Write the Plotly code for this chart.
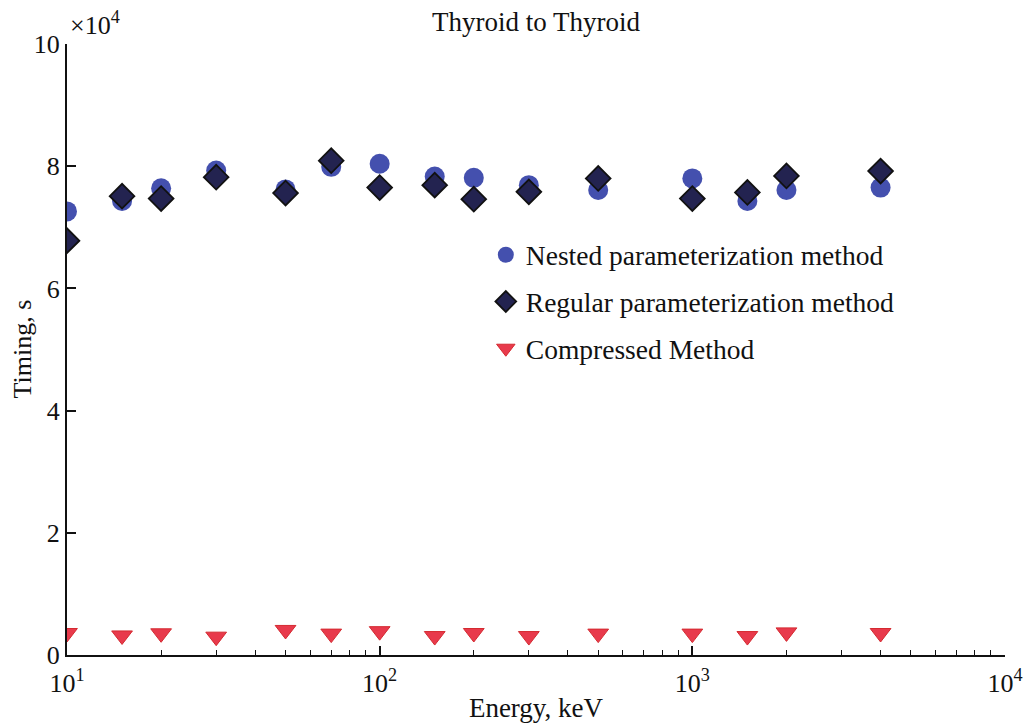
import plotly.graph_objects as go

energy = [10, 15, 20, 30, 50, 70, 100, 150, 200, 300, 500, 1000, 1500, 2000, 4000]
nested = [7.26, 7.43, 7.64, 7.93, 7.62, 7.99, 8.04, 7.83, 7.81, 7.69, 7.61, 7.80, 7.43, 7.61, 7.65]
regular = [6.78, 7.51, 7.47, 7.82, 7.56, 8.09, 7.65, 7.69, 7.46, 7.58, 7.80, 7.47, 7.57, 7.84, 7.92]
compressed = [0.36, 0.32, 0.355, 0.30, 0.41, 0.35, 0.39, 0.31, 0.36, 0.31, 0.35, 0.35, 0.31, 0.37, 0.36]

x_tickvals = [10, 100, 1000, 10000]
x_ticktext = ["10<sup>1</sup>", "10<sup>2</sup>", "10<sup>3</sup>", "10<sup>4</sup>"]
y_tickvals = [0, 2, 4, 6, 8, 10]

FONT = "Liberation Serif"

fig = go.Figure()
fig.add_trace(go.Scatter(
    x=energy, y=nested, mode="markers", name="Nested parameterization method",
    legendgroup="a",
    marker=dict(symbol="circle", size=20, color="#4450AE", line=dict(width=0))))
fig.add_trace(go.Scatter(
    x=energy, y=regular, mode="markers", name="Regular parameterization method",
    legendgroup="b",
    marker=dict(symbol="diamond", size=19, color="#232350", line=dict(width=1.8, color="#111111"))))
fig.add_trace(go.Scatter(
    x=energy, y=compressed, mode="markers", name="Compressed Method",
    legendgroup="c",
    marker=dict(symbol="triangle-down", size=18, color="#E83A4C", line=dict(width=1, color="#D42A30"))))

fig.update_layout(
    width=1026, height=723,
    margin=dict(l=67, r=21, t=44, b=68, autoexpand=False),
    paper_bgcolor="white", plot_bgcolor="white",
    font=dict(family=FONT, size=26, color="#111111"),
    title=dict(text="Thyroid to Thyroid", x=0.5225, xanchor="center", y=0.9696, yanchor="middle",
               font=dict(family=FONT, size=27, color="#111111")),
    showlegend=True,
    legend=dict(x=0.4465, y=0.695, xanchor="left", yanchor="top",
                bgcolor="rgba(0,0,0,0)", font=dict(family=FONT, size=27.5, color="#111111"),
                traceorder="grouped", tracegroupgap=8, itemwidth=30),
    xaxis=dict(type="log", range=[1, 4], tickvals=x_tickvals, ticktext=x_ticktext,
               ticks="inside", ticklen=9, tickwidth=1.5, tickcolor="#111111",
               showline=True, linecolor="#111111", linewidth=2, mirror=False,
               showgrid=False, zeroline=False, automargin=False,
               ticklabeloverflow="allow",
               minor=dict(ticks="inside", ticklen=5, tickwidth=1.2, tickcolor="#111111",
                          dtick="D1", showgrid=False),
               title=dict(text="Energy, keV", font=dict(family=FONT, size=27), standoff=4),
               tickfont=dict(family=FONT, size=26), ticklabelstandoff=4),
    yaxis=dict(range=[0, 10], tickvals=y_tickvals,
               ticks="inside", ticklen=9, tickwidth=1.5, tickcolor="#111111",
               showline=True, linecolor="#111111", linewidth=2, mirror=False,
               showgrid=False, zeroline=False, automargin=False,
               tickfont=dict(family=FONT, size=26)),
)

fig.add_annotation(xref="paper", yref="paper", x=0, y=0.5, xanchor="center", yanchor="middle",
                   xshift=-45, showarrow=False, textangle=-90,
                   text="Timing, s", font=dict(family=FONT, size=26, color="#111111"))

fig.add_annotation(xref="paper", yref="paper", x=0, y=1, xanchor="left", yanchor="bottom",
                   xshift=1, yshift=2, showarrow=False,
                   text="×10<sup>4</sup>", font=dict(family=FONT, size=26, color="#111111"))

fig.write_html("out.html", config={"displayModeBar": False},
               post_script="document.body.style.margin='0';")
